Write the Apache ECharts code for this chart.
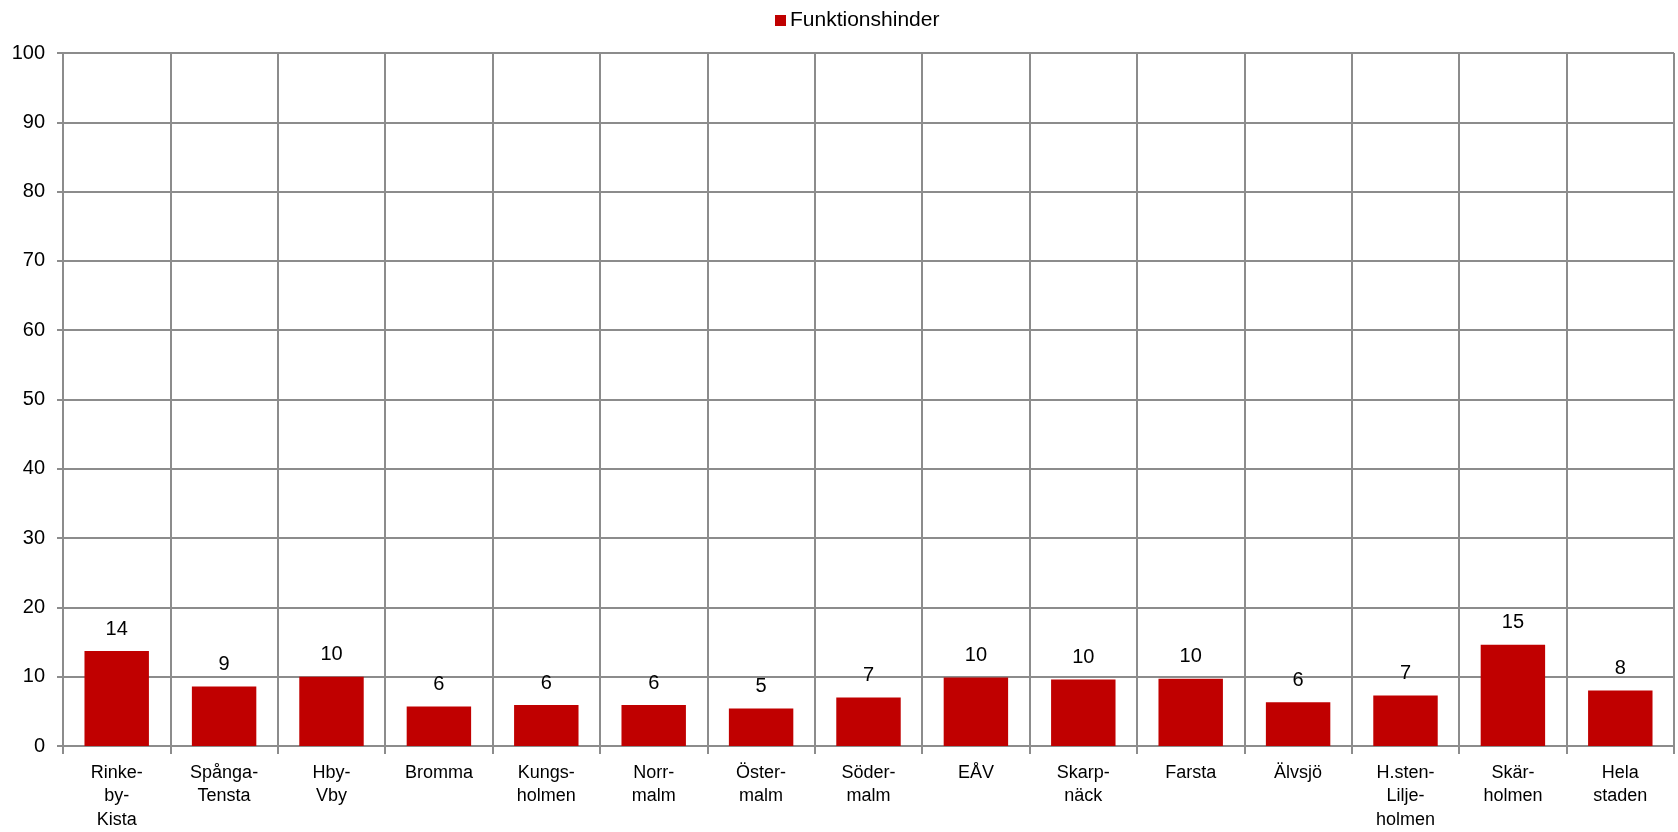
<!DOCTYPE html>
<html>
<head>
<meta charset="utf-8">
<script src="https://cdn.jsdelivr.net/npm/echarts@6/dist/echarts.min.js"></script>
<style>
  html, body { margin: 0; padding: 0; background: #fff; }
  #chart { width: 1678px; height: 832px; }
</style>
</head>
<body>
<div id="chart"></div>
<script>
const categories = [
  'Rinke-\nby-\nKista', 'Spånga-\nTensta', 'Hby-\nVby', 'Bromma', 'Kungs-\nholmen',
  'Norr-\nmalm', 'Öster-\nmalm', 'Söder-\nmalm', 'EÅV', 'Skarp-\nnäck',
  'Farsta', 'Älvsjö', 'H.sten-\nLilje-\nholmen', 'Skär-\nholmen', 'Hela\nstaden'
]
const funktionshinder = [13.7, 8.6, 10.0, 5.7, 5.9, 5.9, 5.4, 7.0, 9.9, 9.6, 9.7, 6.3, 7.3, 14.6, 8.0]
const seriesName = 'Funktionshinder'

const gridColor = '#8c8c8c'
const font = '"Liberation Sans", Arial, sans-serif'

const chart = echarts.init(document.getElementById('chart'), null, { renderer: 'canvas' })

const option = {
  animation: false,
  legend: {
    top: 5,
    left: 770,
    itemWidth: 11,
    itemHeight: 11,
    itemGap: 6,
    icon: 'rect',
    textStyle: { color: '#000', fontSize: 21, fontFamily: font, padding: [0, 0, 0, -1] },
    data: [seriesName]
  },
  grid: {
    left: 63,
    right: 4,
    top: 53,
    bottom: 86,
    containLabel: false
  },
  xAxis: {
    type: 'category',
    data: categories,
    axisLine: { lineStyle: { color: gridColor, width: 2 } },
    axisTick: { show: true, length: 8, lineStyle: { color: gridColor, width: 2 } },
    splitLine: { show: true, lineStyle: { color: gridColor, width: 2 } },
    axisLabel: {
      color: '#000',
      fontSize: 18,
      fontFamily: font,
      lineHeight: 23.5,
      margin: 15,
      interval: 0
    }
  },
  yAxis: {
    type: 'value',
    min: 0,
    max: 100,
    interval: 10,
    axisLine: { show: true, lineStyle: { color: gridColor, width: 2 } },
    axisTick: { show: true, length: 6, lineStyle: { color: gridColor, width: 2 } },
    splitLine: { show: true, lineStyle: { color: gridColor, width: 2 } },
    axisLabel: {
      color: '#000',
      fontSize: 20,
      fontFamily: font,
      margin: 18
    }
  },
  series: [
    {
      name: seriesName,
      type: 'bar',
      data: funktionshinder,
      barWidth: '60%',
      itemStyle: { color: '#C00000' },
      label: {
        show: true,
        position: 'top',
        distance: 12,
        color: '#000',
        fontSize: 20,
        fontFamily: font,
        formatter: (p) => Math.round(p.value)
      }
    }
  ]
}

chart.setOption(option)
</script>
</body>
</html>
